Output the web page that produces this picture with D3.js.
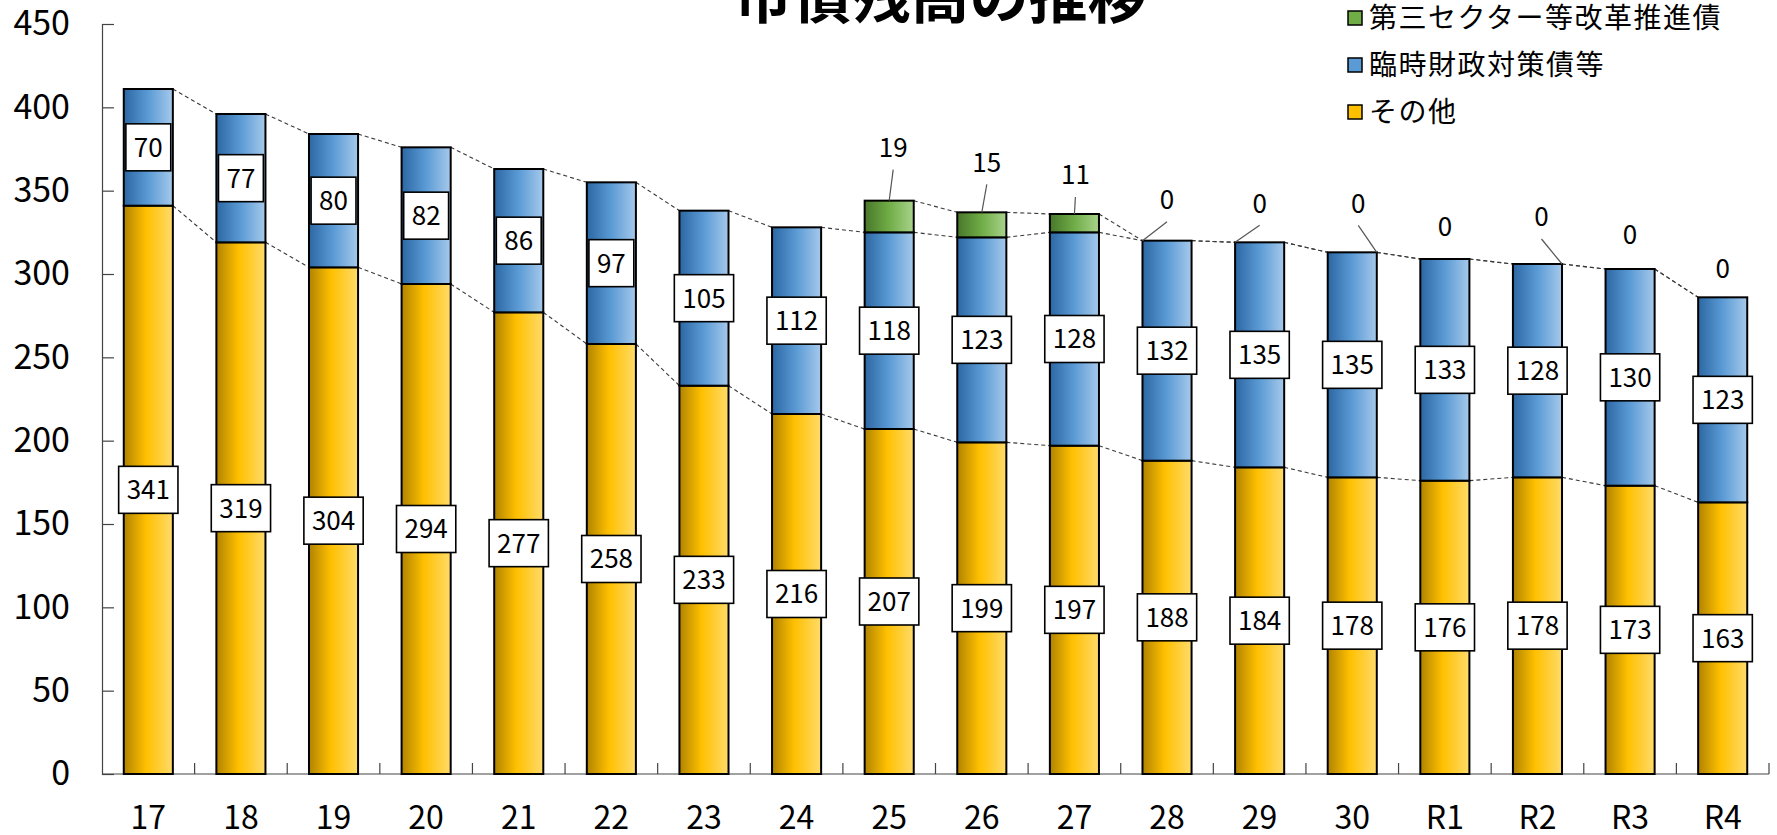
<!DOCTYPE html>
<html lang="ja">
<head>
<meta charset="utf-8">
<script src="https://cdn.jsdelivr.net/npm/d3@7"></script>
<style>
  html, body { margin: 0; padding: 0; background: #fff; }
  svg { display: block; }
  text { font-family: "Noto Sans CJK JP", "Noto Sans", sans-serif; fill: #000; }
</style>
</head>
<body>
<svg id="chart" width="1777" height="835"></svg>
<script>
// 年度（平成17年度〜令和4年度）
const years = ["17","18","19","20","21","22","23","24","25","26","27","28","29","30","R1","R2","R3","R4"];
// その他（億円）
const otherDebt = [341,319,304,294,277,258,233,216,207,199,197,188,184,178,176,178,173,163];
// 臨時財政対策債等（億円）
const tempFiscalDebt = [70,77,80,82,86,97,105,112,118,123,128,132,135,135,133,128,130,123];
// 第三セクター等改革推進債（億円）— 平成25年度から
const thirdSectorDebt = [null,null,null,null,null,null,null,null,19,15,11,0,0,0,0,0,0,0];
const yTicks = [0,50,100,150,200,250,300,350,400,450];
const seriesNames = ["第三セクター等改革推進債", "臨時財政対策債等", "その他"];

// Placement of the labels above the bars: [dx, dy] from the bar top centre,
// and where the leader line leaves the bar top (0 left, 0.5 middle, 1 right).
const topLabelPlace = [null,null,null,null,null,null,null,null,
  [4,-53],[5,-50],[1,-39],[0,-41],[0,-39],[6,-49],[0,-32],[4,-47],[0,-34],[0,-29]];
const topLabelLeader = [null,null,null,null,null,null,null,null,
  0.5,0.5,0.5,0,0,1,null,1,null,null];

const svg = d3.select("#chart");
const defs = svg.append("defs");

function addGradient(id, stops) {
  const g = defs.append("linearGradient").attr("id", id)
    .attr("x1", 0).attr("y1", 0).attr("x2", 1).attr("y2", 0);
  stops.forEach(([o, c]) => g.append("stop").attr("offset", o).attr("stop-color", c));
}
addGradient("gOther", [[0, "#b08300"], [0.45, "#ffc000"], [1, "#ffdb6a"]]);
addGradient("gTemp", [[0, "#2c67a3"], [0.5, "#5b9bd5"], [1, "#a6c9eb"]]);
addGradient("gThird", [[0, "#48772a"], [0.5, "#70ad47"], [1, "#a9d38c"]]);

const x0 = 102, x1 = 1769, yBase = 774, yTop = 24;
const x = d3.scaleBand().domain(years).range([x0, x1]).padding(0);
const y = d3.scaleLinear().domain([0, 450]).range([yBase, yTop]);
const barW = x.bandwidth() * 0.53;
const barLeft = d => x(d) + (x.bandwidth() - barW) / 2;

// Title (sits mostly above the visible area)
svg.append("text").attr("x", 940).attr("y", 18)
  .attr("text-anchor", "middle").attr("font-size", 59).attr("font-weight", "bold")
  .text("市債残高の推移");

// Y axis
const yAxis = d3.axisLeft(y).tickValues(yTicks).tickSize(-12).tickPadding(32);
const gy = svg.append("g").attr("transform", `translate(${x0},0)`).call(yAxis);
gy.select(".domain").attr("stroke", "#444").attr("stroke-width", 1.2);
gy.selectAll(".tick line").attr("stroke", "#444").attr("stroke-width", 1.2);
gy.selectAll(".tick text").attr("font-size", 34).attr("font-family", "Noto Sans CJK JP").attr("fill", "#000");

// X axis with tick marks between categories
const gx = svg.append("g").attr("transform", `translate(0,${yBase})`);
gx.append("line").attr("x1", x0).attr("x2", x1).attr("stroke", "#444").attr("stroke-width", 1.2);
gx.selectAll("line.sep").data(years).enter().append("line").attr("class", "sep")
  .attr("x1", d => x(d) + x.bandwidth()).attr("x2", d => x(d) + x.bandwidth())
  .attr("y1", 0).attr("y2", -11).attr("stroke", "#444").attr("stroke-width", 1.2);
gx.selectAll("text").data(years).enter().append("text")
  .attr("x", d => x(d) + x.bandwidth() / 2).attr("y", 55)
  .attr("text-anchor", "middle").attr("font-size", 32).text(d => d);

// Stacked rows
const rows = years.map((yr, i) => {
  const a = otherDebt[i], b = tempFiscalDebt[i], c = thirdSectorDebt[i];
  return { yr, i, a, b, c, topA: a, topB: a + b, topC: c == null ? null : a + b + c };
});

// Dashed series lines joining neighbouring bar tops
const lineLayer = svg.append("g");
function seriesLinks(key) {
  const segs = [];
  for (let i = 0; i < rows.length - 1; i++) {
    const p = rows[i][key], q = rows[i + 1][key];
    if (p == null || q == null) continue;
    segs.push({ xa: barLeft(rows[i].yr) + barW, ya: y(p), xb: barLeft(rows[i + 1].yr), yb: y(q) });
  }
  lineLayer.selectAll(null).data(segs).enter().append("line")
    .attr("x1", d => d.xa).attr("y1", d => d.ya).attr("x2", d => d.xb).attr("y2", d => d.yb)
    .attr("stroke", "#3a3a3a").attr("stroke-width", 1.1).attr("stroke-dasharray", "4,3");
}
seriesLinks("topA");
seriesLinks("topB");
seriesLinks("topC");

// Bars
const barLayer = svg.append("g");
function drawSegment(data, lo, hi, fill) {
  barLayer.selectAll(null).data(data).enter().append("rect")
    .attr("x", d => barLeft(d.yr)).attr("width", barW)
    .attr("y", d => y(hi(d))).attr("height", d => y(lo(d)) - y(hi(d)))
    .attr("fill", fill).attr("stroke", "#000").attr("stroke-width", 2);
}
drawSegment(rows, d => 0, d => d.topA, "url(#gOther)");
drawSegment(rows, d => d.topA, d => d.topB, "url(#gTemp)");
drawSegment(rows.filter(d => d.c), d => d.topB, d => d.topC, "url(#gThird)");

// Boxed value labels centred in the yellow and blue segments
const labelLayer = svg.append("g");
function boxedLabels(data, mid, val) {
  const g = labelLayer.selectAll(null).data(data).enter().append("g")
    .attr("transform", d => `translate(${x(d.yr) + x.bandwidth() / 2},${y(mid(d))})`);
  g.append("rect").attr("fill", "#fff").attr("stroke", "#000").attr("stroke-width", 1.6);
  const t = g.append("text").attr("text-anchor", "middle").attr("dy", "0.36em")
    .attr("font-size", 26).text(val);
  t.each(function () {
    const w = this.getComputedTextLength() + 16, h = 47;
    d3.select(this.parentNode).select("rect")
      .attr("x", -w / 2).attr("y", -h / 2).attr("width", w).attr("height", h);
  });
}
boxedLabels(rows, d => d.a / 2, d => d.a);
boxedLabels(rows, d => d.a + d.b / 2, d => d.b);

// Labels for the third-sector series, above the bars
const topRows = rows.filter(d => d.c != null);
const tg = labelLayer.selectAll(null).data(topRows).enter().append("g");
tg.each(function (d) {
  const g = d3.select(this);
  const [dx, dy] = topLabelPlace[d.i];
  const cx = x(d.yr) + x.bandwidth() / 2;
  const ty = y(d.topC);
  const lx = cx + dx, ly = ty + dy;
  const anchor = topLabelLeader[d.i];
  if (anchor != null) {
    g.append("line")
      .attr("x1", barLeft(d.yr) + barW * anchor).attr("y1", ty)
      .attr("x2", lx).attr("y2", ly + 22)
      .attr("stroke", "#555").attr("stroke-width", 1.2);
  }
  g.append("text").attr("x", lx).attr("y", ly).attr("dy", "0.36em")
    .attr("text-anchor", "middle").attr("font-size", 26).text(d.c);
});

// Legend
const legendFills = ["#70ad47", "#5b9bd5", "#ffc000"];
const lg = svg.append("g");
seriesNames.forEach((name, k) => {
  const cy = 18 + k * 47;
  lg.append("rect").attr("x", 1348).attr("y", cy - 7).attr("width", 14).attr("height", 14)
    .attr("fill", legendFills[k]).attr("stroke", "#000").attr("stroke-width", 1.5);
  lg.append("text").attr("x", 1369).attr("y", cy).attr("dy", "0.36em")
    .attr("font-size", 28).attr("letter-spacing", 1.5).text(name);
});
</script>
</body>
</html>
